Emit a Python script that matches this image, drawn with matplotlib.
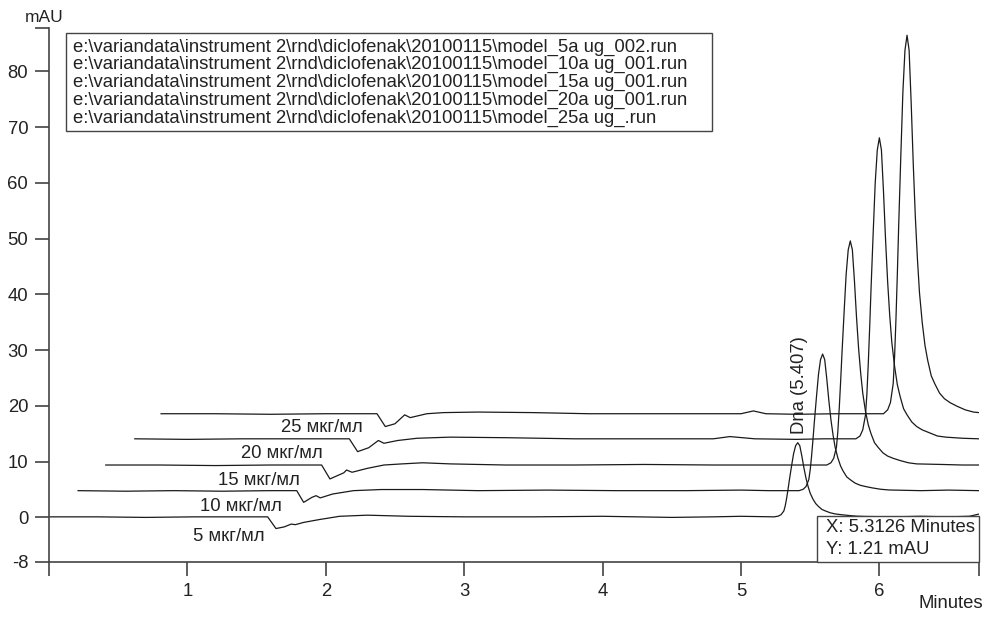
import matplotlib
matplotlib.use("Agg")
import matplotlib.pyplot as plt
from matplotlib.patches import Rectangle

plt.rcParams['font.family'] = ['Liberation Sans', 'DejaVu Sans']

# chromatogram traces (x in minutes, y in mAU)
x5 = [0.00, 0.35, 0.70, 1.05, 1.40, 1.58, 1.64, 1.70, 1.75, 1.78, 1.84, 1.95, 2.10, 2.30, 2.60,
      3.00, 3.50, 4.00, 4.50, 4.80, 5.00,
      5.24, 5.27, 5.29, 5.31, 5.32, 5.33, 5.34, 5.35, 5.365, 5.38, 5.395, 5.41, 5.425, 5.44,
      5.455, 5.47, 5.485, 5.50, 5.52, 5.54, 5.56, 5.585, 5.61, 5.645, 5.68, 5.72, 5.77, 5.83,
      5.89, 6.10, 6.30, 6.50, 6.65, 6.72]
y5 = [0.1, 0.1, 0.0, 0.1, 0.1, 0.1, -2.0, -1.7, -1.2, -1.3, -0.9, -0.4, 0.2, 0.4, 0.2,
      0.1, 0.1, 0.2, 0.0, 0.1, 0.2,
      0.1, 0.23, 0.5, 1.16, 2.1, 3.43, 5.02, 6.75, 9.14, 11.4, 12.87, 13.4, 12.87, 11.0,
      8.88, 7.02, 5.55, 4.36, 3.29, 2.49, 1.96, 1.43, 1.16, 0.83, 0.63, 0.5, 0.37, 0.23,
      0.17, 0.1, 0.2, 0.1, 0.2, 0.6]

x10 = [0.21, 0.55, 0.90, 1.25, 1.60, 1.79, 1.84, 1.90, 1.93, 1.96, 2.05, 2.20, 2.40, 2.70, 3.10,
       3.60, 4.10, 4.60, 5.00, 5.20,
       5.42, 5.45, 5.47, 5.49, 5.50, 5.51, 5.52, 5.53, 5.545, 5.56, 5.575, 5.59, 5.605, 5.62,
       5.635, 5.65, 5.665, 5.68, 5.70, 5.72, 5.74, 5.765, 5.79, 5.825, 5.86, 5.90, 5.95, 6.01,
       6.07, 6.30, 6.50, 6.72]
y10 = [4.8, 4.7, 4.8, 4.7, 4.8, 4.8, 2.7, 3.6, 3.9, 3.5, 4.2, 4.8, 5.0, 5.0, 4.8,
       4.9, 4.8, 4.8, 4.9, 4.8,
       4.8, 5.05, 5.54, 6.76, 8.48, 10.93, 13.87, 17.05, 21.46, 25.63, 28.32, 29.3, 28.32, 24.89,
       20.97, 17.54, 14.85, 12.64, 10.68, 9.21, 8.23, 7.25, 6.76, 6.15, 5.78, 5.54, 5.29, 5.05,
       4.92, 4.8, 4.9, 4.8]

x15 = [0.41, 0.80, 1.20, 1.60, 1.97, 2.03, 2.13, 2.15, 2.19, 2.30, 2.42, 2.55, 2.70, 2.90, 3.30,
       3.80, 4.30, 4.80, 5.30,
       5.62, 5.65, 5.67, 5.69, 5.70, 5.71, 5.72, 5.73, 5.745, 5.76, 5.775, 5.79, 5.805, 5.82,
       5.835, 5.85, 5.865, 5.88, 5.90, 5.92, 5.94, 5.965, 5.99, 6.025, 6.06, 6.10, 6.15, 6.21,
       6.27, 6.45, 6.60, 6.72]
y15 = [9.4, 9.4, 9.3, 9.4, 9.4, 6.9, 8.0, 8.5, 8.1, 8.8, 9.4, 9.6, 9.8, 9.6, 9.4,
       9.4, 9.5, 9.4, 9.4,
       9.4, 9.8, 10.6, 12.6, 15.4, 19.5, 24.3, 29.5, 36.7, 43.6, 48.0, 49.6, 48.0, 42.4,
       35.9, 30.3, 25.9, 22.3, 19.0, 16.6, 15.0, 13.4, 12.6, 11.6, 11.0, 10.6, 10.2, 9.8,
       9.6, 9.5, 9.4, 9.4]

x20 = [0.62, 1.00, 1.40, 1.80, 2.17, 2.23, 2.31, 2.38, 2.42, 2.52, 2.66, 2.90, 3.30, 3.80, 4.30,
       4.80, 4.92, 5.10, 5.40, 5.60,
       5.83, 5.86, 5.88, 5.90, 5.91, 5.92, 5.93, 5.94, 5.955, 5.97, 5.985, 6.00, 6.015, 6.03,
       6.045, 6.06, 6.075, 6.09, 6.11, 6.13, 6.15, 6.175, 6.20, 6.235, 6.27, 6.31, 6.36, 6.42,
       6.48, 6.60, 6.72]
y20 = [14.1, 14.0, 14.1, 14.1, 14.1, 11.8, 12.5, 13.8, 13.3, 13.8, 14.2, 14.4, 14.3, 14.1, 14.1,
       14.1, 14.5, 14.1, 14.0, 14.1,
       14.1, 14.6, 15.7, 18.4, 22.2, 27.6, 34.1, 41.1, 50.8, 60.0, 65.9, 68.1, 65.9, 58.4,
       49.7, 42.2, 36.2, 31.4, 27.1, 23.8, 21.7, 19.5, 18.4, 17.1, 16.3, 15.7, 15.2, 14.6,
       14.4, 14.2, 14.1]

x25 = [0.81, 1.20, 1.60, 2.00, 2.37, 2.43, 2.50, 2.57, 2.61, 2.73, 2.85, 3.10, 3.50, 3.90, 4.30,
       4.70, 5.00, 5.09, 5.18, 5.40, 5.70,
       6.03, 6.06, 6.08, 6.10, 6.11, 6.12, 6.13, 6.14, 6.155, 6.17, 6.185, 6.20, 6.215, 6.23,
       6.245, 6.26, 6.275, 6.29, 6.31, 6.33, 6.35, 6.375, 6.40, 6.435, 6.47, 6.51, 6.56, 6.62,
       6.68, 6.72]
y25 = [18.6, 18.6, 18.5, 18.6, 18.6, 16.3, 16.8, 18.4, 17.9, 18.6, 18.8, 18.9, 18.8, 18.6, 18.6,
       18.6, 18.6, 19.1, 18.6, 18.5, 18.6,
       18.6, 19.3, 20.6, 24.0, 28.8, 35.6, 43.7, 52.6, 64.8, 76.3, 83.8, 86.5, 83.8, 74.3,
       63.4, 53.9, 46.4, 40.3, 34.9, 30.8, 28.1, 25.4, 24.0, 22.3, 21.3, 20.6, 19.96, 19.3,
       18.9, 18.8]

conc_labels = ['5 мкг/мл', '10 мкг/мл', '15 мкг/мл', '20 мкг/мл', '25 мкг/мл']
conc_label_x = [1.30, 1.39, 1.52, 1.68, 1.975]
conc_label_y = [-3.4, 2.0, 6.7, 11.5, 16.2]

files = [r'e:\variandata\instrument 2\rnd\diclofenak\20100115\model_5a ug_002.run',
         r'e:\variandata\instrument 2\rnd\diclofenak\20100115\model_10a ug_001.run',
         r'e:\variandata\instrument 2\rnd\diclofenak\20100115\model_15a ug_001.run',
         r'e:\variandata\instrument 2\rnd\diclofenak\20100115\model_20a ug_001.run',
         r'e:\variandata\instrument 2\rnd\diclofenak\20100115\model_25a ug_.run']

xticks = [0, 1, 2, 3, 4, 5, 6, 6.72]
xticklabels = ['', '1', '2', '3', '4', '5', '6', '']
yticks = [-8, 0, 10, 20, 30, 40, 50, 60, 70, 80, 87.8]
yticklabels = ['-8', '0', '10', '20', '30', '40', '50', '60', '70', '80', '']

W, H = 986, 622
fs = 13.3
fig = plt.figure(figsize=(W / 100, H / 100), dpi=100)
ax = fig.add_axes([49 / W, 1 - 562 / H, 930 / W, 534 / H])

lc = '#1a1a1a'
for xs, ys in [(x5, y5), (x10, y10), (x15, y15), (x20, y20), (x25, y25)]:
    ax.plot(xs, ys, color=lc, lw=0.9)

for t, tx, ty in zip(conc_labels, conc_label_x, conc_label_y):
    ax.text(tx, ty, t, ha='center', va='center', fontsize=fs, color='#222')

ax.text(5.42, 14.9, 'Dna (5.407)', rotation=90, ha='center', va='bottom', fontsize=fs, color='#222')

ax.set_xlim(0, 6.72)
ax.set_ylim(-8, 87.8)
ax.set_xticks(xticks)
ax.set_xticklabels(xticklabels)
ax.set_yticks(yticks)
ax.set_yticklabels(yticklabels)
ax.tick_params(axis='both', labelsize=fs, colors='#333', labelcolor='#222',
               length=10, width=1.1, pad=5)
for s in ['top', 'right']:
    ax.spines[s].set_visible(False)
for s in ['left', 'bottom']:
    ax.spines[s].set_color('#444')
    ax.spines[s].set_linewidth(1.2)

# axis titles
fig.text(44 / W, 1 - 18 / H, 'mAU', ha='center', va='center', fontsize=12.5, color='#222')
fig.text(983 / W, 1 - 604 / H, 'Minutes', ha='right', va='center', fontsize=fs, color='#222')

# file list box
fig.add_artist(Rectangle((66 / W, 1 - 131 / H), 646 / W, 98 / H, transform=fig.transFigure,
                         fill=False, ec='#444', lw=1.0))
for i, f in enumerate(files):
    fig.text(73 / W, 1 - (47 + i * 17.8) / H, f, ha='left', va='center', fontsize=fs, color='#222')

# cursor readout box
fig.add_artist(Rectangle((817 / W, 1 - 562 / H), 162 / W, 46 / H, transform=fig.transFigure,
                         fc='white', ec='#444', lw=1.0, zorder=5))
fig.text(826 / W, 1 - 527 / H, 'X: 5.3126 Minutes', ha='left', va='center', fontsize=fs,
         color='#222', zorder=6)
fig.text(826 / W, 1 - 549 / H, 'Y: 1.21 mAU', ha='left', va='center', fontsize=fs,
         color='#222', zorder=6)

fig.savefig('out.png', dpi=100)
